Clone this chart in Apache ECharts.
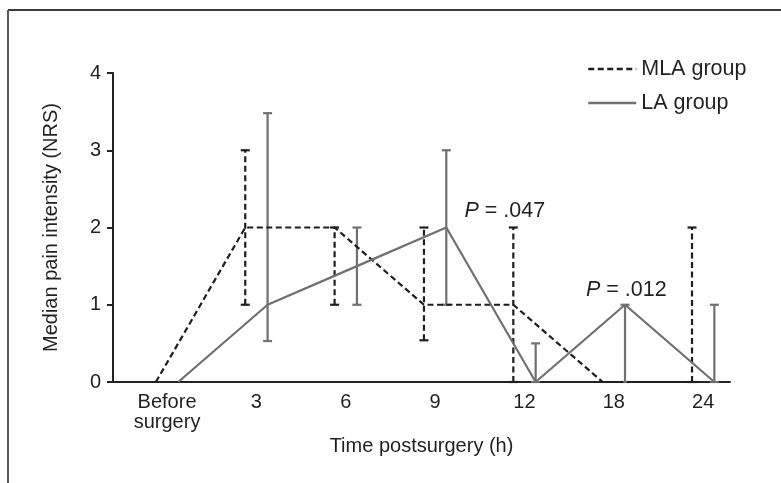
<!DOCTYPE html>
<html><head><meta charset="utf-8">
<script src="https://cdn.jsdelivr.net/npm/echarts@6/dist/echarts.min.js"></script>
<style>html,body{margin:0;padding:0;background:#fff}#c{width:781px;height:483px}</style>
</head><body><div id="c"></div>
<script>
// ---- data ----
const categories = ['Before\nsurgery', '3', '6', '9', '12', '18', '24'];
const mlaMedian = [0, 2, 2, 1, 1, 0, 0];
const mlaLow    = [0, 1, 1, 0.54, 0, 0, 0];
const mlaHigh   = [0, 3, 2, 2, 2, 0, 2];
const laMedian  = [0, 1, 1.5, 2, 0, 1, 0];
const laLow     = [0, 0.53, 1, 1, 0, 0, 0];
const laHigh    = [0, 3.48, 2, 3, 0.5, 1, 1];
const yTicks = [0, 1, 2, 3, 4];
const annotationLabels = ['.047', '.012'];
const annotationAt = [[3.78, 2.21], [5.14, 1.19]];

// ---- styles ----
const FONT = 'Liberation Sans, Arial, Helvetica, sans-serif';
const TEXT = '#231f20';
const MLA_COLOR = '#1e1e1e';
const LA_COLOR = '#707070';
const SHIFT = 0.125;
const LW = 2.2;

const mlaX = categories.map((c, i) => i - SHIFT);
const laX = categories.map((c, i) => i + SHIFT);

function errRender(color, dashed) {
  return function (params, api) {
    const x = api.value(0), lo = api.value(1), hi = api.value(2);
    if (hi === lo) return null;
    const p1 = api.coord([x, lo]), p2 = api.coord([x, hi]);
    const w = 4.5;
    const st = { stroke: color, lineWidth: LW, fill: null };
    return {
      type: 'group', children: [
        { type: 'line', shape: { x1: p1[0], y1: p1[1], x2: p2[0], y2: p2[1] },
          style: Object.assign({}, st, { lineDash: dashed ? [6, 3.5] : null }) },
        { type: 'line', shape: { x1: p1[0] - w, y1: p1[1], x2: p1[0] + w, y2: p1[1] }, style: st },
        { type: 'line', shape: { x1: p2[0] - w, y1: p2[1], x2: p2[0] + w, y2: p2[1] }, style: st }
      ]
    };
  };
}

const chart = echarts.init(document.getElementById('c'), null, { renderer: 'canvas' });
chart.setOption({
  animation: false,
  backgroundColor: '#fff',
  textStyle: { fontFamily: FONT, color: TEXT },
  graphic: [
    { type: 'line', shape: { x1: 8, y1: 10, x2: 781, y2: 10 }, style: { stroke: '#3a3a3a', lineWidth: 2 } },
    { type: 'line', shape: { x1: 8, y1: 10, x2: 8, y2: 483 }, style: { stroke: '#5a5a5a', lineWidth: 2 } }
  ],
  grid: { left: 113, right: 51, top: 73, bottom: 101, containLabel: false },
  legend: {
    orient: 'vertical', left: 582, top: 53, itemWidth: 48, itemHeight: 12, itemGap: 12,
    itemStyle: { opacity: 0 },
    lineStyle: { width: 2.5 },
    textStyle: { fontFamily: FONT, fontSize: 21.5, color: TEXT },
    data: ['MLA group', 'LA group']
  },
  xAxis: {
    type: 'value', min: -0.605, max: 6.3,
    axisLine: { show: true, onZero: false, lineStyle: { color: '#222', width: 2 } },
    axisTick: { show: false },
    splitLine: { show: false },
    axisLabel: {
      customValues: categories.map((c, i) => i),
      formatter: v => categories[Math.round(v)],
      fontFamily: FONT, fontSize: 20, color: TEXT, margin: 10, lineHeight: 20
    },
    name: 'Time postsurgery (h)', nameLocation: 'middle', nameGap: 52,
    nameTextStyle: { fontFamily: FONT, fontSize: 20, color: TEXT }
  },
  yAxis: {
    type: 'value', min: 0, max: 4, interval: 1,
    axisLine: { show: true, onZero: false, lineStyle: { color: '#222', width: 2 } },
    axisTick: { show: true, length: 6, lineStyle: { color: '#222', width: 2 } },
    splitLine: { show: false },
    axisLabel: {
      customValues: yTicks,
      fontFamily: FONT, fontSize: 20, color: TEXT, margin: 12
    },
    name: 'Median pain intensity (NRS)', nameLocation: 'middle', nameGap: 52,
    nameTextStyle: { fontFamily: FONT, fontSize: 20, color: TEXT }
  },
  series: [
    {
      name: 'MLA bars', type: 'custom', renderItem: errRender(MLA_COLOR, true),
      data: categories.map((c, i) => [mlaX[i], mlaLow[i], mlaHigh[i]]), z: 2
    },
    {
      name: 'LA bars', type: 'custom', renderItem: errRender(LA_COLOR, false),
      data: categories.map((c, i) => [laX[i], laLow[i], laHigh[i]]), z: 2
    },
    {
      name: 'MLA group', type: 'line', symbol: 'none', z: 3,
      data: categories.map((c, i) => [mlaX[i], mlaMedian[i]]),
      itemStyle: { color: MLA_COLOR },
      lineStyle: { color: MLA_COLOR, width: LW, type: [6, 3.5] }
    },
    {
      name: 'LA group', type: 'line', symbol: 'none', z: 4,
      data: categories.map((c, i) => [laX[i], laMedian[i]]),
      itemStyle: { color: LA_COLOR },
      lineStyle: { color: LA_COLOR, width: LW },
      markPoint: {
        symbol: 'circle', symbolSize: 0, silent: true,
        label: {
          show: true, position: 'inside', color: TEXT, fontFamily: FONT, fontSize: 21.5,
          rich: { i: { fontStyle: 'italic', fontFamily: FONT, fontSize: 21.5, color: TEXT },
                  n: { fontFamily: FONT, fontSize: 21.5, color: TEXT } }
        },
        data: annotationLabels.map((t, k) => ({
          coord: annotationAt[k], value: t,
          label: { formatter: '{i|P}{n| = ' + t + '}' }
        }))
      }
    }
  ]
});
</script></body></html>
